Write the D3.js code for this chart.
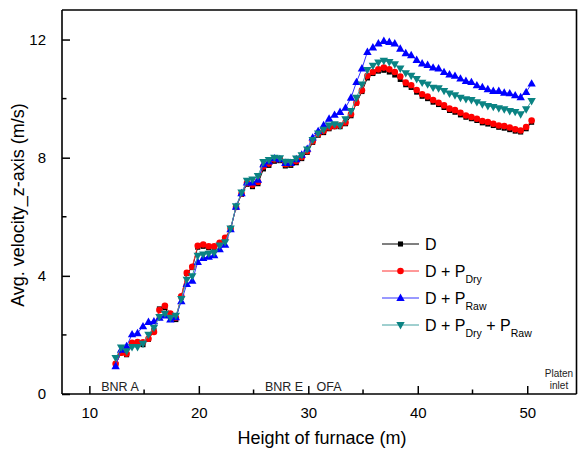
<!DOCTYPE html>
<html>
<head>
<meta charset="utf-8">
<script src="https://cdn.jsdelivr.net/npm/d3@7"></script>
<style>
  html, body { margin: 0; padding: 0; background: #fff; }
  svg { display: block; font-family: Arial, "Liberation Sans", sans-serif; }
</style>
</head>
<body>
<svg id="chart" width="578" height="450"></svg>
<script>
// ---- data ----
const heights = [12.4, 12.9, 13.4, 13.9, 14.4, 14.9, 15.4, 15.9, 16.4, 16.9,
  17.4, 17.9, 18.4, 18.9, 19.4, 19.9, 20.4, 20.9, 21.4, 21.9,
  22.4, 22.9, 23.4, 23.9, 24.4, 24.9, 25.4, 25.9, 26.4, 26.9,
  27.4, 27.9, 28.4, 28.9, 29.4, 29.9, 30.4, 30.9, 31.4, 31.9,
  32.4, 32.9, 33.4, 33.9, 34.4, 34.9, 35.4, 35.9, 36.4, 36.9,
  37.4, 37.9, 38.4, 38.9, 39.4, 39.9, 40.4, 40.9, 41.4, 41.9,
  42.4, 42.9, 43.4, 43.9, 44.4, 44.9, 45.4, 45.9, 46.4, 46.9,
  47.4, 47.9, 48.4, 48.9, 49.4, 49.9, 50.4];

const seriesD = [1.0, 1.39, 1.33, 1.7, 1.72, 1.67, 1.85, 2.15, 2.88, 2.92,
  2.62, 2.52, 3.28, 4.08, 4.28, 4.97, 5.0, 4.95, 4.97, 5.08,
  5.25, 5.58, 6.32, 6.76, 7.1, 7.02, 7.12, 7.62, 7.74, 7.88,
  7.9, 7.72, 7.74, 7.83, 7.97, 8.18, 8.52, 8.76, 8.85, 8.98,
  9.05, 9.05, 9.15, 9.42, 9.85, 10.24, 10.7, 10.85, 10.93, 10.96,
  10.9, 10.8, 10.65, 10.47, 10.38, 10.22, 10.08, 10.0, 9.88, 9.8,
  9.7, 9.6, 9.54, 9.45, 9.37, 9.32, 9.26, 9.18, 9.14, 9.09,
  9.03, 9.0, 8.95, 8.9, 8.87, 8.98, 9.2];

const seriesDry = [1.02, 1.4, 1.36, 1.73, 1.76, 1.75, 1.87, 2.1, 2.84, 2.99,
  2.72, 2.58, 3.31, 4.1, 4.31, 5.02, 5.06, 5.0, 5.0, 5.12,
  5.29, 5.6, 6.33, 6.78, 7.14, 7.08, 7.18, 7.7, 7.8, 7.94,
  7.95, 7.78, 7.8, 7.88, 8.02, 8.22, 8.56, 8.8, 8.9, 9.02,
  9.07, 9.09, 9.19, 9.47, 9.86, 10.28, 10.77, 10.9, 10.99, 11.05,
  10.99, 10.9, 10.75, 10.54, 10.45, 10.29, 10.15, 10.07, 9.95, 9.86,
  9.77, 9.66, 9.61, 9.52, 9.43, 9.38, 9.32, 9.24, 9.21, 9.15,
  9.09, 9.07, 9.02, 8.96, 8.92, 9.04, 9.26];

const seriesRaw = [0.94, 1.5, 1.62, 2.02, 2.06, 2.29, 2.44, 2.46, 2.58, 2.66,
  2.52, 2.6, 3.14, 3.72, 3.83, 4.47, 4.6, 4.65, 4.7, 4.9,
  5.05, 5.58, 6.34, 6.8, 7.16, 7.16, 7.25, 7.78, 7.87, 7.98,
  7.95, 7.82, 7.82, 7.95, 8.1, 8.3, 8.68, 8.9, 9.1, 9.32,
  9.45, 9.55, 9.69, 10.03, 10.56, 11.02, 11.58, 11.73, 11.87, 11.95,
  11.92, 11.87, 11.69, 11.54, 11.47, 11.31, 11.19, 11.14, 11.05, 11.02,
  10.9, 10.82, 10.77, 10.68, 10.6, 10.56, 10.45, 10.39, 10.32, 10.26,
  10.26, 10.2, 10.18, 10.11, 10.05, 10.22, 10.51];

const seriesDryRaw = [1.22, 1.57, 1.45, 1.59, 1.59, 1.7, 2.01, 2.24, 2.61, 2.72,
  2.58, 2.65, 3.22, 3.87, 3.99, 4.68, 4.72, 4.75, 4.78, 5.03,
  5.14, 5.6, 6.36, 6.82, 7.22, 7.26, 7.38, 7.85, 7.92, 8.0,
  7.98, 7.86, 7.85, 7.97, 8.08, 8.28, 8.6, 8.82, 8.95, 9.09,
  9.13, 9.09, 9.3, 9.58, 10.03, 10.48, 10.97, 11.11, 11.22, 11.28,
  11.24, 11.16, 11.02, 10.86, 10.77, 10.66, 10.54, 10.48, 10.37, 10.35,
  10.26, 10.17, 10.11, 10.03, 9.98, 9.95, 9.88, 9.81, 9.75, 9.72,
  9.67, 9.64, 9.58, 9.55, 9.47, 9.64, 9.92];

const xTicks = [10, 20, 30, 40, 50];
const xMinor = [15, 25, 35, 45];
const yTicks = [0, 4, 8, 12];
const yMinor = [2, 6, 10];

const seriesList = [
  { name: "D", values: seriesD, color: "#000000", line: "#000000", shape: "square" },
  { name: "D + P_Dry", values: seriesDry, color: "#ff0000", line: "#ff3333", shape: "circle" },
  { name: "D + P_Raw", values: seriesRaw, color: "#0000ff", line: "#3333ff", shape: "up" },
  { name: "D + P_Dry + P_Raw", values: seriesDryRaw, color: "#0b8383", line: "#40a0a0", shape: "down" }
];

// ---- layout ----
const svg = d3.select("#chart");
const pLeft = 62, pRight = 576.5, pTop = 10, pBottom = 394;
const x = d3.scaleLinear().domain([7.5, 54.5]).range([pLeft, pRight]);
const y = d3.scaleLinear().domain([0, 13]).range([pBottom, pTop]);
const FONT = "Arial, 'Liberation Sans', sans-serif";

function markerPath(shape) {
  if (shape === "square") return d3.symbol(d3.symbolSquare, 26)();
  if (shape === "circle") return d3.symbol(d3.symbolCircle, 34)();
  if (shape === "up") return "M0,-4.4L4.2,3L-4.2,3Z";
  return "M0,4.4L4.2,-3L-4.2,-3Z";
}

// series
const lineGen = d3.line().x((d, i) => x(heights[i])).y(d => y(d));
seriesList.forEach(s => {
  const g = svg.append("g");
  g.append("path").attr("d", lineGen(s.values))
    .attr("fill", "none").attr("stroke", s.line).attr("stroke-width", 1);
  g.selectAll("path.m").data(s.values).join("path").attr("class", "m")
    .attr("d", markerPath(s.shape))
    .attr("transform", (d, i) => `translate(${x(heights[i])},${y(d)})`)
    .attr("fill", s.color);
});

// frame (top & right)
svg.append("path")
  .attr("d", `M${pLeft},${pTop}H${pRight}V${pBottom}`)
  .attr("fill", "none").attr("stroke", "#000").attr("stroke-width", 1.6);

// axes
const xAxis = d3.axisBottom(x).tickValues(xTicks).tickSizeInner(-8).tickSizeOuter(0).tickPadding(13).tickFormat(d3.format("d"));
const gx = svg.append("g").attr("transform", `translate(0,${pBottom})`).call(xAxis);
gx.select(".domain").attr("stroke-width", 1.6).attr("d", `M${pLeft},0H${pRight}`);
gx.selectAll(".tick line").attr("stroke-width", 1.5);
gx.selectAll("text").attr("font-size", 15).attr("fill", "#000").attr("font-family", FONT);
gx.selectAll(".minor").data(xMinor).join("line").attr("class", "minor")
  .attr("x1", d => x(d)).attr("x2", d => x(d)).attr("y1", 0).attr("y2", -4.5)
  .attr("stroke", "#000").attr("stroke-width", 1.5);

const yAxis = d3.axisLeft(y).tickValues(yTicks).tickSizeInner(-8).tickSizeOuter(0).tickPadding(16).tickFormat(d3.format("d"));
const gy = svg.append("g").attr("transform", `translate(${pLeft},0)`).call(yAxis);
gy.select(".domain").attr("stroke-width", 1.6).attr("d", `M0,${pTop}V${pBottom}`);
gy.selectAll(".tick line").attr("stroke-width", 1.5);
gy.selectAll("text").attr("font-size", 15).attr("fill", "#000").attr("font-family", FONT);
gy.selectAll(".minor").data(yMinor).join("line").attr("class", "minor")
  .attr("x1", 0).attr("x2", 4.5).attr("y1", d => y(d)).attr("y2", d => y(d))
  .attr("stroke", "#000").attr("stroke-width", 1.5);

// axis titles
svg.append("text").attr("x", 322).attr("y", 444).attr("text-anchor", "middle")
  .attr("font-size", 18).text("Height of furnace (m)");
svg.append("text").attr("transform", "translate(24,205) rotate(-90)").attr("text-anchor", "middle")
  .attr("font-size", 18).text("Avg. velocity_z-axis (m/s)");

// annotations
svg.append("text").attr("x", 120).attr("y", 390.5).attr("text-anchor", "middle")
  .attr("font-size", 12.5).attr("fill", "#222").text("BNR A");
svg.append("text").attr("x", 284).attr("y", 390.5).attr("text-anchor", "middle")
  .attr("font-size", 12.5).attr("fill", "#222").text("BNR E");
svg.append("text").attr("x", 329).attr("y", 390.5).attr("text-anchor", "middle")
  .attr("font-size", 12.5).attr("fill", "#222").text("OFA");
svg.append("text").attr("x", 559).attr("y", 377).attr("text-anchor", "middle")
  .attr("font-size", 10).attr("fill", "#222").text("Platen");
svg.append("text").attr("x", 559).attr("y", 389).attr("text-anchor", "middle")
  .attr("font-size", 10).attr("fill", "#222").text("inlet");

// legend
const legY = [244, 271, 298, 325];
seriesList.forEach((s, i) => {
  const g = svg.append("g").attr("transform", `translate(0,${legY[i]})`);
  g.append("line").attr("x1", 382).attr("x2", 419).attr("y1", 0).attr("y2", 0)
    .attr("stroke", s.line).attr("stroke-width", 1);
  g.append("path").attr("d", markerPath(s.shape)).attr("transform", "translate(400.5,0)").attr("fill", s.color);
  const t = g.append("text").attr("x", 425).attr("y", 6).attr("font-size", 16);
  const parts = s.name.split(/(P_\w+)/).filter(p => p.length);
  let pendingDy = 0;
  parts.forEach(p => {
    if (p.startsWith("P_")) {
      const ts = t.append("tspan").text("P");
      if (pendingDy) ts.attr("dy", pendingDy);
      t.append("tspan").attr("font-size", 10.5).attr("dy", 6).text(p.slice(2));
      pendingDy = -6;
    } else {
      const ts = t.append("tspan").text(p);
      if (pendingDy) ts.attr("dy", pendingDy);
      pendingDy = 0;
    }
  });
});
</script>
</body>
</html>
